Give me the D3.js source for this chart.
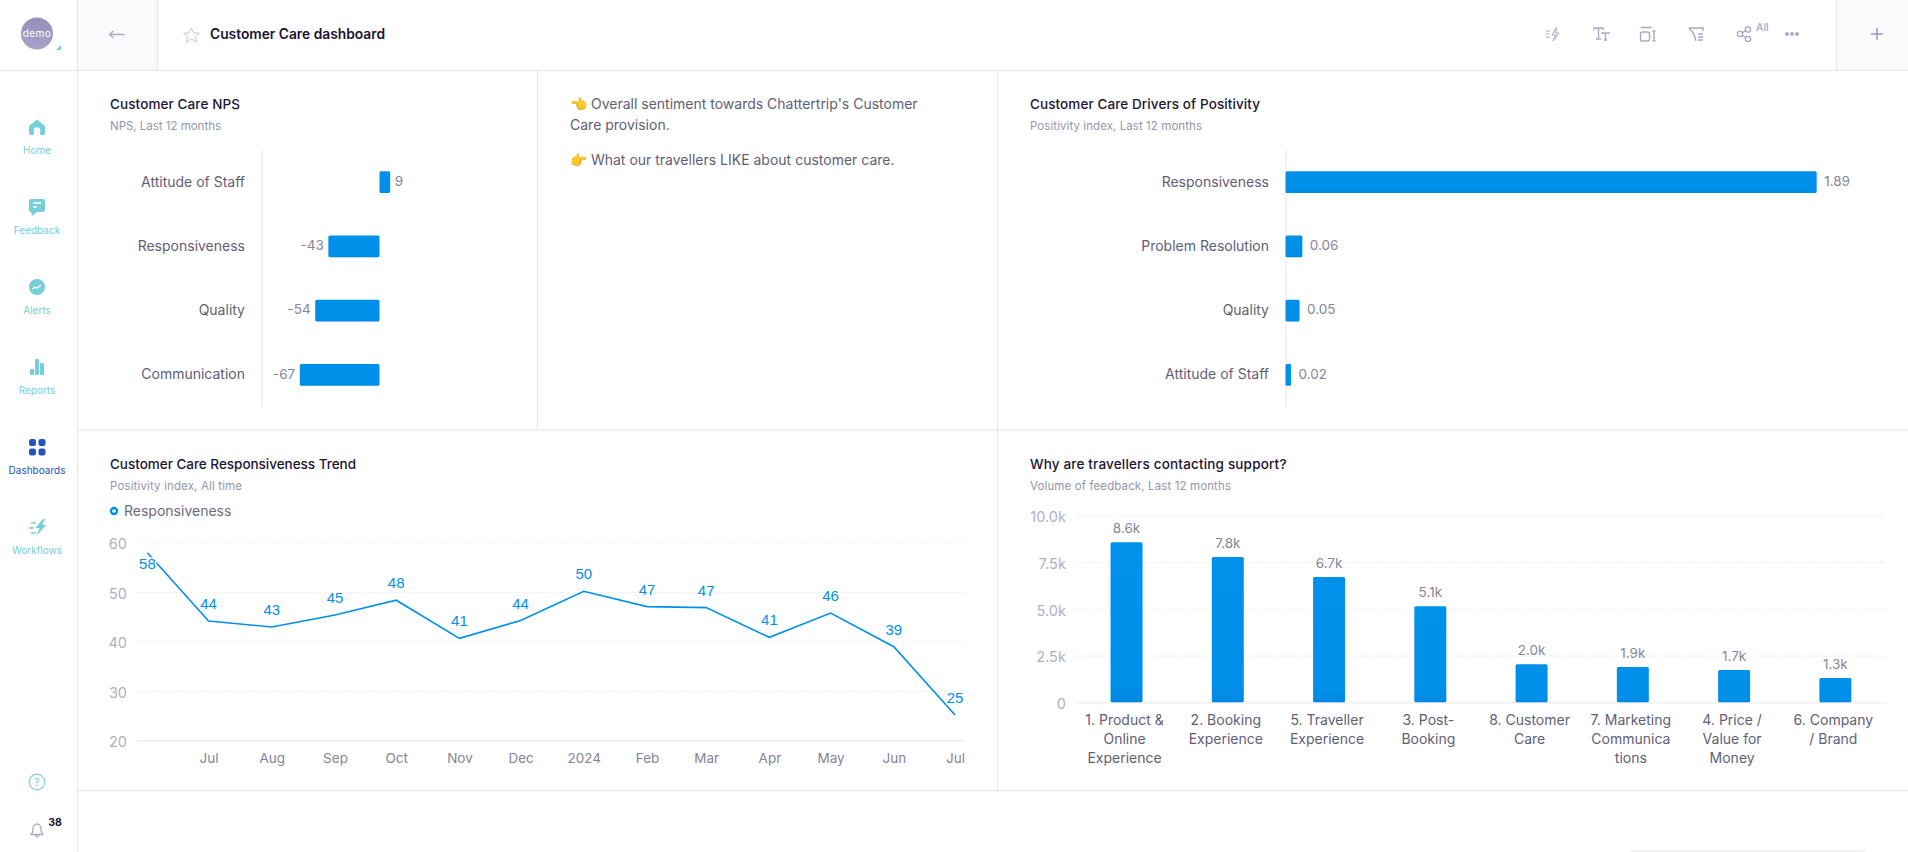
<!DOCTYPE html>
<html>
<head>
<meta charset="utf-8">
<title>Customer Care dashboard</title>
<script src="https://cdn.jsdelivr.net/npm/d3@7"></script>
<style>
  html, body { margin: 0; padding: 0; background: #fff; overflow: hidden; }
  svg { display: block; font-family: Inter, "Noto Sans", sans-serif; }
  svg g { font-family: Inter, "Noto Sans", sans-serif; }
  .title { font-size: 13.5px; font-weight: 500; fill: #1c1433; }
  .sub { font-size: 11.5px; fill: #9695ab; }
  .cat text { font-size: 14px; fill: #5f5e75; }
  .val { font-size: 13.5px; fill: #86859a; }
  .tickGrey text { font-size: 14.5px; fill: #b0afc2; }
  .month text { font-size: 13.5px; fill: #85839a; }
  .navLabel { font-size: 10px; text-anchor: middle; fill: #76ced8; }
  .note { font-size: 14px; fill: #5f5e75; }
</style>
</head>
<body>
<svg id="chart" width="1908" height="852"></svg>
<script>
// NPS panel
let npsCategories = ["Attitude of Staff", "Responsiveness", "Quality", "Communication"];
let npsValues = [9, -43, -54, -67];

// drivers panel
let driverCategories = ["Responsiveness", "Problem Resolution", "Quality", "Attitude of Staff"];
let driverValues = [1.89, 0.06, 0.05, 0.02];

// trend panel
let trendDates = ["2023-06-01", "2023-07-01", "2023-08-01", "2023-09-01", "2023-10-01", "2023-11-01",
    "2023-12-01", "2024-01-01", "2024-02-01", "2024-03-01", "2024-04-01", "2024-05-01", "2024-06-01", "2024-07-01"];
let trendValues = [57.9, 44.1, 42.9, 45.3, 48.3, 40.6, 44.2, 50.1, 47.0, 46.8, 40.8, 45.7, 38.9, 25.1];
let trendTicks = [20, 30, 40, 50, 60];

// support panel
let supportLabels = [["1. Product &", "Online", "Experience"], ["2. Booking", "Experience"], ["5. Traveller", "Experience"],
    ["3. Post-", "Booking"], ["8. Customer", "Care"], ["7. Marketing", "Communica", "tions"], ["4. Price /", "Value for", "Money"], ["6. Company", "/ Brand"]];
let supportValues = [8560, 7770, 6700, 5130, 2040, 1890, 1730, 1300];
let supportTicks = [0, 2500, 5000, 7500, 10000];

let blue = "#0090ea";
let lineColor = "#e3e6f0";
let svg = d3.select("#chart");

let grad = svg.append("defs").append("linearGradient")
    .attr("id", "barFill").attr("x1", 0).attr("x2", 0).attr("y1", 0).attr("y2", 1);
grad.append("stop").attr("offset", "0%").attr("stop-color", "#0091eb");
grad.append("stop").attr("offset", "90%").attr("stop-color", "#008fe9");
grad.append("stop").attr("offset", "100%").attr("stop-color", "#0087e0");

function rule(x1, y1, x2, y2) {
    svg.append("line").attr("x1", x1).attr("y1", y1).attr("x2", x2).attr("y2", y2)
        .attr("stroke", lineColor).attr("stroke-width", 1);
}

// widths are set so Inter fills the same run as the original face
function heading(x, y, title, titleW, sub, subW) {
    svg.append("text").attr("class", "title").attr("x", x).attr("y", y + 5).attr("textLength", titleW).text(title);
    svg.append("text").attr("class", "sub").attr("x", x).attr("y", y + 26).attr("textLength", subW).text(sub);
}

// page frame
svg.append("rect").attr("x", 78).attr("y", 0).attr("width", 80).attr("height", 70).attr("fill", "#fafafc");
svg.append("rect").attr("x", 1837).attr("y", 0).attr("width", 71).attr("height", 70).attr("fill", "#fafafc");
rule(0, 70.5, 1908, 70.5);
rule(77.5, 0, 77.5, 852);
rule(157.5, 0, 157.5, 70);
rule(1836.5, 0, 1836.5, 70);
rule(537.5, 70, 537.5, 430);
rule(997.5, 70, 997.5, 790);
rule(78, 430, 1908, 430);
rule(78, 790.5, 1908, 790.5);
svg.append("rect").attr("x", 1630).attr("y", 850.5).attr("width", 235).attr("height", 1.5).attr("fill", "#eceef3");

// header
let avatar = svg.append("defs").append("linearGradient").attr("id", "avatarFill")
    .attr("x1", 0).attr("x2", 0).attr("y1", 0).attr("y2", 1);
avatar.append("stop").attr("offset", "0%").attr("stop-color", "#958eb8");
avatar.append("stop").attr("offset", "100%").attr("stop-color", "#aaa3c9");
svg.append("circle").attr("cx", 37).attr("cy", 33.5).attr("r", 16).attr("fill", "url(#avatarFill)");
svg.append("text").attr("x", 37).attr("y", 37).attr("text-anchor", "middle").attr("fill", "#fff")
    .attr("font-size", 10).attr("letter-spacing", 0.5).text("demo");
svg.append("path").attr("d", "M61 45v5h-5z").attr("fill", "#76ced8");
svg.append("path").attr("d", "M124.5 34.5h-15m4-3.5l-4 3.5l4 3.5").attr("fill", "none").attr("stroke", "#aaa7ca").attr("stroke-width", 1.3);
svg.append("path").attr("d", "M191.5 28l2.4 5h5.4l-4.2 3.6 1.6 5.6-5.2-3.2-5.2 3.2 1.6-5.6-4.2-3.6h5.4z")
    .attr("fill", "none").attr("stroke", "#c9c7dc").attr("stroke-width", 1);
svg.append("text").attr("x", 210).attr("y", 39).attr("font-size", 13.8).attr("font-weight", 600).attr("fill", "#1c1433")
    .attr("textLength", 175).text("Customer Care dashboard");

let toolColor = "#aaa6c8";
let tools = svg.append("g").attr("fill", "none").attr("stroke", toolColor).attr("stroke-width", 1.4);
tools.append("path").attr("d", "M1546 31h4M1546 34h3M1546 37h4M1556 28l-4 7h4l-3 6 6-8h-4l2-5z").attr("stroke-width", 1);
tools.append("path").attr("d", "M1594 30v-2h9v2M1598.5 28v11M1596 39h5M1602 34v-1h7v1M1605.5 33v7M1604 40h3");
tools.append("rect").attr("x", 1640.5).attr("y", 32).attr("width", 9).attr("height", 9).attr("rx", 2);
tools.append("path").attr("d", "M1640.5 27.5h11M1654 31v10M1652.5 31h3M1652.5 41h3");
tools.append("path").attr("d", "M1689 28h14v3M1689 28l5 6 2 7M1698 34h5M1698 37h5M1698 40h5");
tools.append("circle").attr("cx", 1740).attr("cy", 34).attr("r", 2.6);
tools.append("circle").attr("cx", 1748).attr("cy", 29.5).attr("r", 2.6);
tools.append("circle").attr("cx", 1748).attr("cy", 39).attr("r", 2.6);
tools.append("path").attr("d", "M1742.3 32.7l3.4-2M1742.3 35.3l3.4 2.2");
svg.append("text").attr("x", 1756).attr("y", 31).attr("font-size", 10.5).attr("font-weight", 500).attr("fill", toolColor).text("All");
svg.selectAll("circle.dot").data([1787, 1792, 1797]).enter().append("circle").attr("class", "dot")
    .attr("cx", d => d).attr("cy", 34).attr("r", 1.9).attr("fill", toolColor);
svg.append("path").attr("d", "M1871 34h12M1877 28v12").attr("stroke", "#9c98c0").attr("stroke-width", 1.5);

// sidebar
let navItems = ["Home", "Feedback", "Alerts", "Reports", "Dashboards", "Workflows"];
let navLabelY = [154, 234, 314, 394, 474, 554];
svg.selectAll("text.navLabel").data(navItems).enter().append("text").attr("class", "navLabel")
    .attr("x", 37).attr("y", (d, i) => navLabelY[i])
    .style("fill", d => d == "Dashboards" ? "#2456b8" : null)
    .text(d => d);
let teal = "#76ced8";
svg.append("path").attr("fill", teal).attr("d", "M37 119.5l8 6.5v7q0 2-2 2h-2.8v-4.5a3 3 0 0 0-6.4 0v4.500h-2.800q-2 0-2-2v-7z");
svg.append("path").attr("fill", teal).attr("d", "M31 199h12q2 0 2 2v9q0 2-2 2h-6l-5 4-1-4q-2 0-2-2v-9q0-2 2-2z");
svg.append("path").attr("stroke", "#fff").attr("stroke-width", 1.4).attr("d", "M33 203h8M33 207h4");
svg.append("circle").attr("cx", 37).attr("cy", 287).attr("r", 8).attr("fill", teal);
svg.append("path").attr("fill", "none").attr("stroke", "#fff").attr("stroke-width", 1.3).attr("d", "M32.500 289l2.500-2 2 1 4-3");
svg.append("g").attr("fill", teal).selectAll("rect").data([[30, 369, 4, 6], [35, 359, 4, 16], [40, 363, 4, 12]]).enter()
    .append("rect").attr("x", d => d[0]).attr("y", d => d[1]).attr("width", d => d[2]).attr("height", d => d[3]).attr("rx", 1);
svg.append("g").attr("fill", "#2456b8").selectAll("rect").data([[29, 439], [38.500, 439], [29, 448.500], [38.500, 448.500]]).enter()
    .append("rect").attr("x", d => d[0]).attr("y", d => d[1]).attr("width", 7).attr("height", 7).attr("rx", 2.2);
svg.append("path").attr("fill", teal).attr("d", "M43 519l-7.500 9h4l-3 8 9.500-11h-4l3-6z");
svg.append("path").attr("stroke", teal).attr("stroke-width", 1.6).attr("d", "M31 523h5M29 528h5M31 533h5");
svg.append("circle").attr("cx", 37).attr("cy", 782).attr("r", 7.8).attr("fill", "none").attr("stroke", "#8fd6de").attr("stroke-width", 1.4);
svg.append("text").attr("x", 37).attr("y", 786).attr("text-anchor", "middle").attr("font-size", 10.5).attr("fill", "#76ced8").text("?");
svg.append("path").attr("fill", "none").attr("stroke", "#aaa6c8").attr("stroke-width", 1.3)
    .attr("d", "M30.500 834.500q2.500-1 2.500-6a4 4.500 0 0 1 8 0q0 5 2.500 6zM35 835q2 3.500 4 0");
svg.append("text").attr("x", 55).attr("y", 826).attr("text-anchor", "middle").attr("font-size", 10.5).attr("font-weight", 700).attr("fill", "#1c1433").text("38");

// horizontal bar panel used by the two top charts
function hbars(categories, values, x, axisX, padLabel, fmt) {
    let y = d3.scaleBand().domain(categories).range([150, 407]).paddingInner(0.662).paddingOuter(0.331);
    let g = svg.append("g");
    let axis = g.append("g").attr("class", "cat").attr("transform", `translate(${axisX},0)`)
        .call(d3.axisLeft(y).tickSize(0).tickPadding(padLabel));
    axis.select(".domain").attr("stroke", "#e6e8ef");
    g.selectAll("rect").data(values).enter().append("rect")
        .attr("x", d => Math.min(x(0), x(d)))
        .attr("y", (d, i) => y(categories[i]))
        .attr("width", d => Math.abs(x(d) - x(0)))
        .attr("height", y.bandwidth())
        .attr("rx", 1.5)
        .attr("fill", "url(#barFill)");
    g.selectAll("text.val").data(values).enter().append("text").attr("class", "val")
        .attr("x", d => x(d) + (d < 0 ? -4.5 : 4.5))
        .attr("y", (d, i) => y(categories[i]) + y.bandwidth() / 2 - 1)
        .attr("dy", "0.35em")
        .attr("text-anchor", d => d < 0 ? "end" : "start")
        .text(fmt);
}

heading(110, 104, "Customer Care NPS", 130, "NPS, Last 12 months", 111);
let npsX = d3.scaleLinear().domain([-100, 100]).range([260.5, 498.500]);
hbars(npsCategories, npsValues, npsX, 261.5, 16.5, d => d);

heading(1030, 104, "Customer Care Drivers of Positivity", 230, "Positivity index, Last 12 months", 172);
let driverX = d3.scaleLinear().domain([0, 1.89]).range([1285.5, 1816.700]);
hbars(driverCategories, driverValues, driverX, 1285.5, 16.5, d => d.toFixed(2));
svg.selectAll("text.val").filter(d => d > 0 && d < 2 && !Number.isInteger(d)).attr("dx", 3);

// note panel
let notes = svg.append("g").attr("class", "note");
notes.append("text").attr("x", 570).attr("y", 109).text("\u{1F448} Overall sentiment towards Chattertrip's Customer");
notes.append("text").attr("x", 570).attr("y", 130).text("Care provision.");
notes.append("text").attr("x", 570).attr("y", 165).text("\u{1F449} What our travellers LIKE about customer care.");

// trend panel
heading(110, 464, "Customer Care Responsiveness Trend", 246, "Positivity index, All time", 132);
svg.append("circle").attr("cx", 114).attr("cy", 511).attr("r", 3).attr("fill", "#fff").attr("stroke", blue).attr("stroke-width", 2.4);
svg.append("text").attr("x", 124).attr("y", 516).attr("font-size", 14).attr("fill", "#6c6b80").text("Responsiveness");

let parseDay = d3.utcParse("%Y-%m-%d");
let trendDays = trendDates.map(parseDay);
let trendX = d3.scaleUtc().domain([trendDays[0], trendDays[trendDays.length - 1]]).range([147.4, 955]);
let trendY = d3.scaleLinear().domain([20, 60]).range([740.3, 542.3]);
let gridLeft = 137, gridRight = 965;

let trendAxis = svg.append("g").attr("class", "tickGrey").attr("transform", `translate(${gridLeft},0)`)
    .call(d3.axisLeft(trendY).tickValues(trendTicks).tickSize(-(gridRight - gridLeft)).tickPadding(10));
trendAxis.select(".domain").remove();
trendAxis.selectAll("line").attr("stroke", "#e7e8ee").attr("stroke-dasharray", d => d == 20 ? null : "1.500 1.500");
trendAxis.selectAll("text").attr("dy", "0.44em");

let monthAxis = svg.append("g").attr("class", "month").attr("transform", "translate(0,740.3)")
    .call(d3.axisBottom(trendX).tickValues(trendDays.slice(1)).tickSize(0).tickPadding(13)
        .tickFormat(d => d.getUTCMonth() == 0 ? d3.utcFormat("%Y")(d) : d3.utcFormat("%b")(d)));
monthAxis.select(".domain").remove();

let trendLine = d3.line().x((d, i) => trendX(trendDays[i])).y(d => trendY(d));
svg.append("path").datum(trendValues).attr("d", trendLine).attr("fill", "none").attr("stroke", blue).attr("stroke-width", 1.6);
svg.selectAll("text.pt").data(trendValues).enter().append("text").attr("class", "pt")
    .attr("x", (d, i) => trendX(trendDays[i]))
    .attr("y", d => trendY(d) + (d > 55 ? 16 : -12))
    .attr("text-anchor", "middle")
    .style("font-family", "Liberation Sans")
    .attr("font-size", 15)
    .attr("fill", blue)
    .attr("stroke", "#fff").attr("stroke-width", 3).attr("paint-order", "stroke")
    .text(d => Math.round(d));

// support panel
heading(1030, 464, "Why are travellers contacting support?", 256.5, "Volume of feedback, Last 12 months", 201);
let supportX = d3.scaleBand().domain(d3.range(supportValues.length)).range([1075.9, 1886]).paddingInner(0.684).paddingOuter(0.342);
let supportY = d3.scaleLinear().domain([0, 10000]).range([702.3, 515.3]);

let supportAxis = svg.append("g").attr("class", "tickGrey").attr("transform", "translate(1075.9,0)")
    .call(d3.axisLeft(supportY).tickValues(supportTicks).tickSize(-810).tickPadding(10)
        .tickFormat(d => d == 0 ? "0" : (d / 1000).toFixed(1) + "k"));
supportAxis.select(".domain").remove();
supportAxis.selectAll("line").attr("stroke", "#e7e8ee").attr("stroke-dasharray", d => d == 0 ? null : "1.500 1.500");
supportAxis.selectAll("text").attr("dy", "0.44em");

svg.append("g").selectAll("rect").data(supportValues).enter().append("rect")
    .attr("x", (d, i) => supportX(i))
    .attr("y", d => supportY(d))
    .attr("width", supportX.bandwidth())
    .attr("height", d => supportY(0) - supportY(d))
    .attr("rx", 1.5)
    .attr("fill", "url(#barFill)");
svg.selectAll("text.barVal").data(supportValues).enter().append("text").attr("class", "barVal val")
    .attr("x", (d, i) => supportX(i) + supportX.bandwidth() / 2)
    .attr("y", d => supportY(d) - 9)
    .attr("text-anchor", "middle")
    .text(d => (d / 1000).toFixed(1) + "k");

let catAxis = svg.append("g").attr("class", "cat").attr("transform", "translate(-2,702.3)")
    .call(d3.axisBottom(supportX).tickSize(0).tickFormat(""));
catAxis.select(".domain").remove();
catAxis.selectAll(".tick text").each(function(d) {
    let t = d3.select(this).attr("y", 0).attr("dy", null);
    supportLabels[d].forEach((line, i) => {
        t.append("tspan").attr("x", 0).attr("y", 22.500 + i * 19).text(line);
    });
});
</script>
</body>
</html>
